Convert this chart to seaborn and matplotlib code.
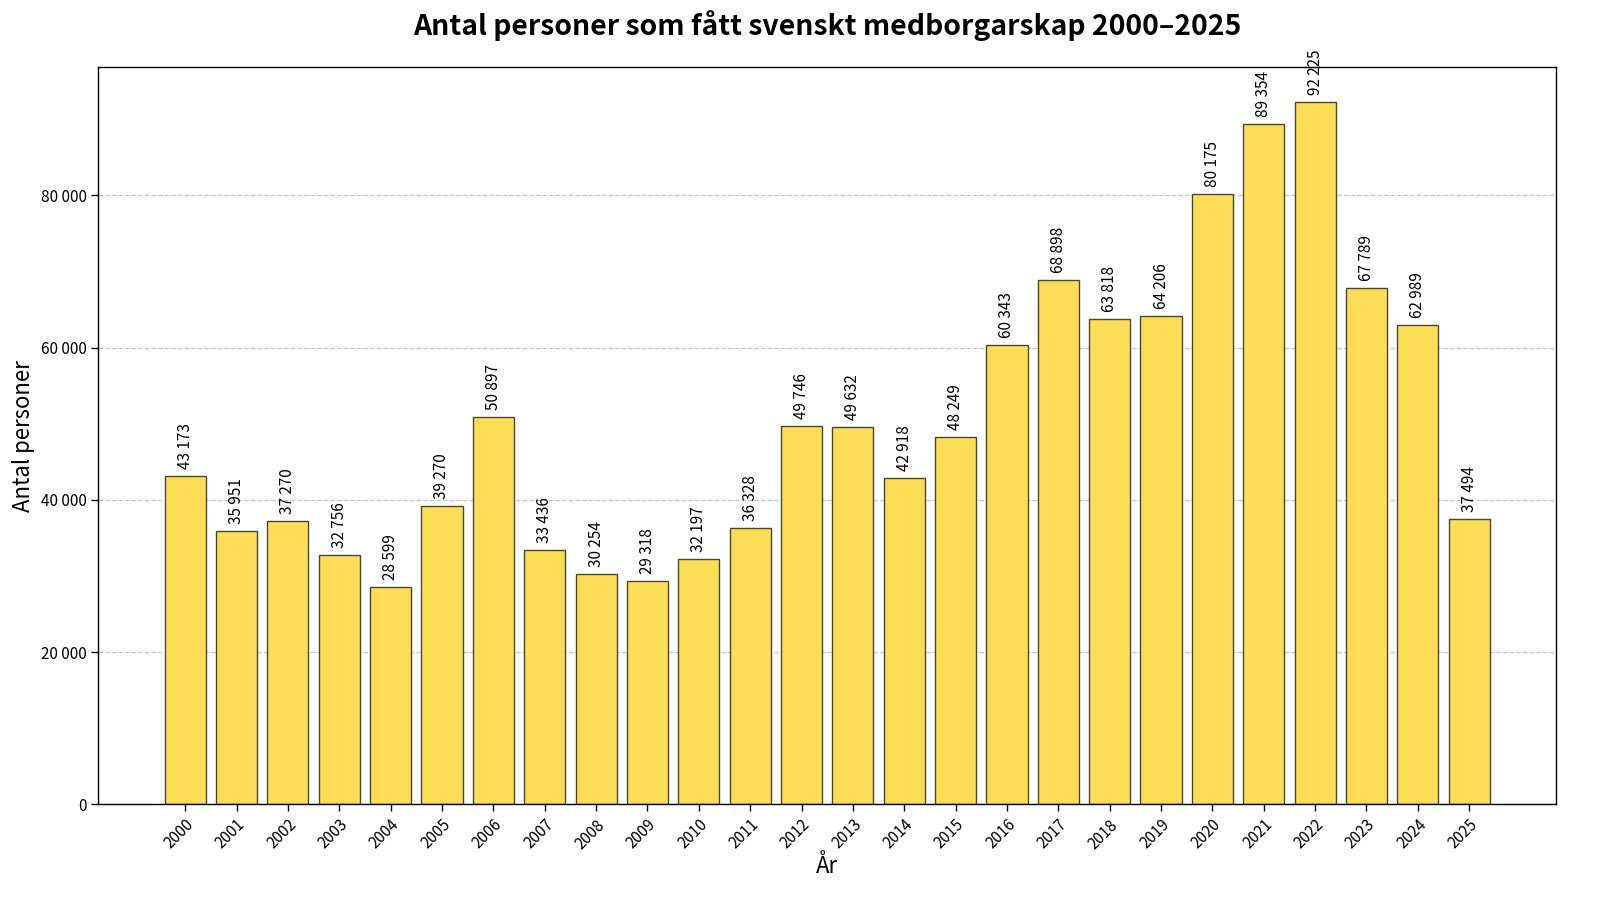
import matplotlib
matplotlib.use("Agg")
import matplotlib.pyplot as plt
import matplotlib.ticker as mticker
import seaborn as sns
import pandas as pd

years = [str(y) for y in range(2000, 2026)]
persons = [43173, 35951, 37270, 32756, 28599, 39270, 50897, 33436, 30254, 29318,
           32197, 36328, 49746, 49632, 42918, 48249, 60343, 68898, 63818, 64206,
           80175, 89354, 92225, 67789, 62989, 37494]


def fmt_space(v, pos=None):
    return f"{int(v):,}".replace(",", " ")


def main():
    sns.set_style("white")
    plt.rcParams['font.family'] = ['Noto Sans CJK SC', 'DejaVu Sans']
    plt.rcParams['text.color'] = 'black'
    plt.rcParams['axes.labelcolor'] = 'black'
    plt.rcParams['xtick.color'] = 'black'
    plt.rcParams['ytick.color'] = 'black'

    df = pd.DataFrame({"year": years, "persons": persons})

    fig, ax = plt.subplots(figsize=(16, 9.09), dpi=100)
    sns.barplot(data=df, x="year", y="persons", color="#FCDD55", saturation=1,
                edgecolor="#4a4733", linewidth=1.0, width=0.8, ax=ax)

    for i, v in enumerate(df["persons"]):
        ax.annotate(fmt_space(v), (i, v), xytext=(0, 5), textcoords="offset points",
                    rotation=90, ha="center", va="bottom", fontsize=11)

    n = len(years)
    pad = 0.05 * (n - 1 + 0.8)
    ax.set_xlim(-0.4 - pad, n - 1 + 0.4 + pad)
    ax.set_ylim(0, max(persons) * 1.05)
    ax.yaxis.set_major_locator(mticker.MultipleLocator(20000))
    ax.yaxis.set_major_formatter(mticker.FuncFormatter(fmt_space))
    ax.grid(axis="y", linestyle="--", color="#bbbbbb", alpha=0.8, linewidth=0.9)
    ax.set_axisbelow(True)
    for s in ax.spines.values():
        s.set_color("black")
        s.set_linewidth(1.0)

    ax.tick_params(axis="both", which="major", labelsize=11, length=5, width=1,
                   bottom=True, left=True)
    plt.setp(ax.get_xticklabels(), rotation=45, ha="right", rotation_mode="anchor")

    ax.set_title("Antal personer som fått svenskt medborgarskap 2000–2025",
                 fontsize=20.4, fontweight="bold", pad=23)
    ax.set_xlabel("År", fontsize=16, labelpad=2)
    ax.set_ylabel("Antal personer", fontsize=16)

    fig.subplots_adjust(left=0.0615, right=0.9725, top=0.926, bottom=0.115)
    fig.savefig("out.png", dpi=100)


if __name__ == "__main__":
    main()
